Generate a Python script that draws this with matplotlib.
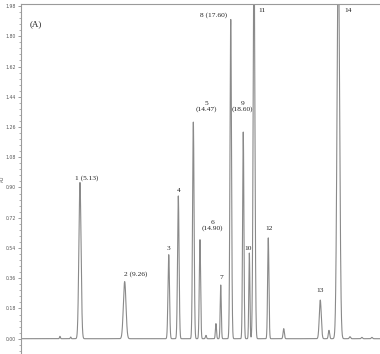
import numpy as np
import matplotlib
matplotlib.use("Agg")
import matplotlib.pyplot as plt
from matplotlib.ticker import MultipleLocator

# Peak parameters (time axis in minutes, height in AU)
peak_centers = [3.58, 4.57, 5.42, 9.53, 13.58, 14.46, 15.84, 16.45, 17.0, 17.92, 18.36,
                19.28, 20.43, 20.99, 21.42, 22.73, 24.15, 27.51, 28.31, 29.17, 30.24, 31.34, 32.26]
peak_heights = [0.014, 0.01, 0.93, 0.34, 0.50, 0.85, 1.29, 0.59, 0.02, 0.09, 0.32,
                1.90, 1.23, 0.51, 2.30, 0.60, 0.06, 0.23, 0.05, 2.30, 0.012, 0.008, 0.008]
peak_widths = [0.04, 0.04, 0.10, 0.12, 0.07, 0.07, 0.07, 0.06, 0.05, 0.05, 0.05,
               0.07, 0.06, 0.05, 0.08, 0.06, 0.06, 0.09, 0.06, 0.12, 0.06, 0.06, 0.06]

label_texts = ["1 (5.13)", "2 (9.26)", "3", "4", "5\n(14.47)", "6\n(14.90)", "7",
               "8 (17.60)", "9\n(18.60)", "10", "11", "12", "13", "14"]
label_x = [6.05, 10.5, 13.58, 14.46, 17.07, 17.6, 18.38, 17.67, 20.38, 20.9, 22.13, 22.8, 27.47, 30.09]
label_y = [0.94, 0.37, 0.52, 0.87, 1.35, 0.64, 0.35, 1.91, 1.35, 0.52, 1.94, 0.64, 0.27, 1.94]

t = np.linspace(0, 33, 6000)
signal = np.zeros_like(t)
for c, h, w in zip(peak_centers, peak_heights, peak_widths):
    signal += h * np.exp(-0.5 * ((t - c) / w) ** 2)

fig = plt.figure(figsize=(3.8, 3.54), dpi=100)
ax = fig.add_axes([21 / 380, 0.0, 359 / 380, 1 - 4 / 354])
ax.plot(t, signal, color="#8a8a8a", lw=0.8)
ax.set_xlim(0, 33)
ax.set_ylim(-0.091, 1.992)

for s in ["right", "bottom"]:
    ax.spines[s].set_visible(False)
for s in ["left", "top"]:
    ax.spines[s].set_color("#9a9a9a")
    ax.spines[s].set_linewidth(0.8)

ax.set_xticks([])
ax.yaxis.set_major_locator(MultipleLocator(0.18))
ax.yaxis.set_minor_locator(MultipleLocator(0.036))
ax.tick_params(axis="y", which="major", length=2.5, width=0.5, color="#777777",
               labelsize=3.3, labelcolor="#555555", pad=1)
ax.tick_params(axis="y", which="minor", length=1.5, width=0.4, color="#777777")
ax.set_yticks(np.round(np.arange(0, 1.99, 0.18), 2))
ax.set_yticklabels([f"{v:.2f}" for v in np.arange(0, 1.99, 0.18)])
ax.set_ylabel("AU", fontsize=3.3, color="#555555", labelpad=0.5)

serif = ["Liberation Serif", "DejaVu Serif"]
ax.text(0.8, 1.87, "(A)", fontsize=6.5, family=serif, color="#222222", ha="left", va="center")
for txt, x, y in zip(label_texts, label_x, label_y):
    ax.text(x, y, txt, fontsize=5.3, family=serif, color="#222222", ha="center", va="bottom",
            linespacing=1.1)

fig.savefig("out.png", dpi=100)
